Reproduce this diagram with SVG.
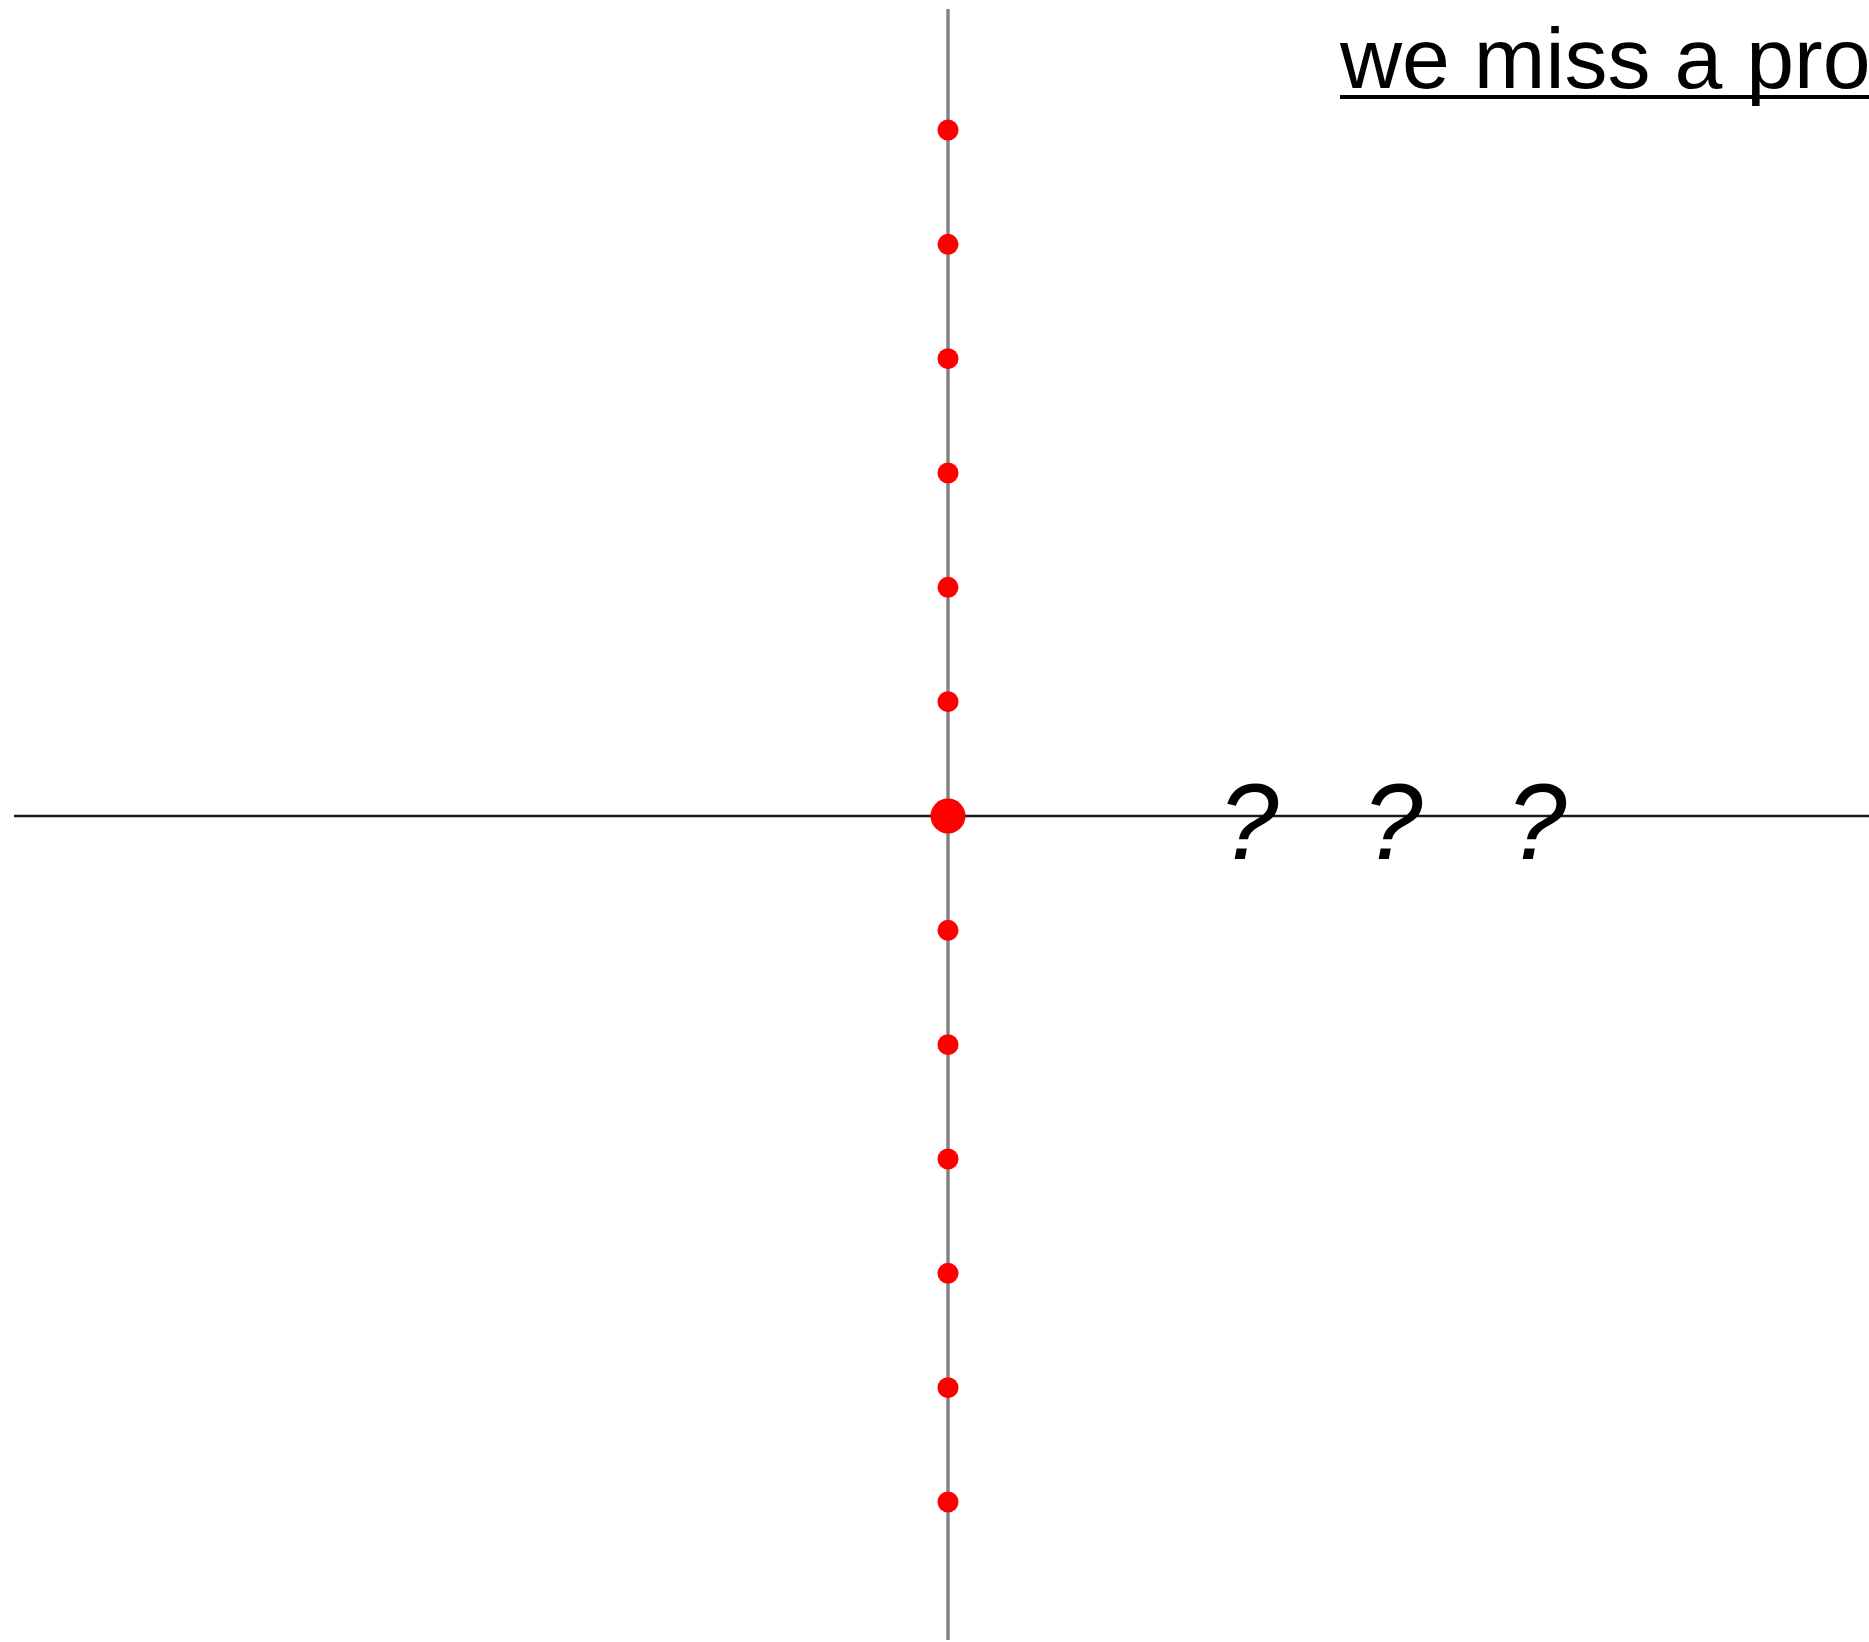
<svg xmlns="http://www.w3.org/2000/svg" width="1869" height="1642" viewBox="0 0 1869 1642">
<style>
.dot{fill:#ff0000}
.q{font-family:"Liberation Sans",Arial,sans-serif;font-style:italic;font-size:107px;fill:#000}
.title{font-family:"Liberation Sans",Arial,sans-serif;font-size:86px;fill:#000}
</style>
<rect width="1869" height="1642" fill="#ffffff"/>
<g id="connectors">
<line x1="14" y1="816" x2="1869" y2="816" stroke="#1a1a1a" stroke-width="2.6"/>
<line x1="948" y1="9" x2="948" y2="1640" stroke="#808080" stroke-width="3.4"/>
</g>
<g id="title">
<text class="title" x="1340" y="88">we miss a pro</text>
<line x1="1340" y1="97" x2="1869" y2="97" stroke="#000" stroke-width="4"/>
</g>
<g id="dots">
<circle class="dot" cx="948" cy="130" r="10.5"/>
<circle class="dot" cx="948" cy="244.3" r="10.5"/>
<circle class="dot" cx="948" cy="358.7" r="10.5"/>
<circle class="dot" cx="948" cy="473" r="10.5"/>
<circle class="dot" cx="948" cy="587.3" r="10.5"/>
<circle class="dot" cx="948" cy="701.7" r="10.5"/>
<circle class="dot" cx="948" cy="816" r="17.5"/>
<circle class="dot" cx="948" cy="930.3" r="10.5"/>
<circle class="dot" cx="948" cy="1044.7" r="10.5"/>
<circle class="dot" cx="948" cy="1159" r="10.5"/>
<circle class="dot" cx="948" cy="1273.3" r="10.5"/>
<circle class="dot" cx="948" cy="1387.7" r="10.5"/>
<circle class="dot" cx="948" cy="1502" r="10.5"/>
</g>
<g id="questions">
<text class="q" x="1219" y="859">?</text>
<text class="q" x="1363" y="859">?</text>
<text class="q" x="1507" y="859">?</text>
</g>
</svg>
